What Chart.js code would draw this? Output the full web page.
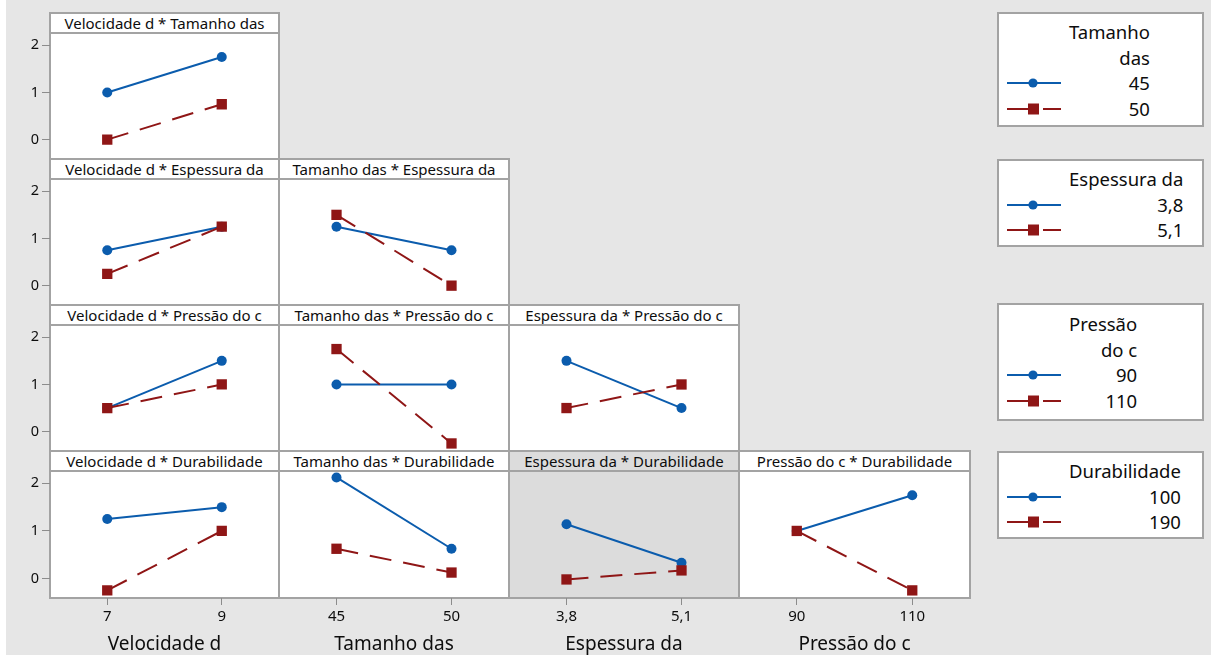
<!DOCTYPE html>
<html>
<head>
<meta charset="utf-8">
<script src="https://cdn.jsdelivr.net/npm/chart.js@4.4.1/dist/chart.umd.min.js"></script>
<style>
  html, body { margin: 0; padding: 0; }
  body { width: 1211px; height: 659px; background: #ffffff; position: relative; overflow: hidden;
         font-family: "Noto Sans", "Open Sans", sans-serif; color: #0d0d0d; }
  #backdrop { position: absolute; left: 6px; top: 0; width: 1205px; height: 655px; background: #e6e6e6; }
  .strip, .plot { position: absolute; box-sizing: border-box; border: 2px solid #a3a3a3; background: #ffffff; }
  .strip { display: flex; align-items: center; justify-content: center; overflow: hidden; white-space: nowrap; }
  .strip span { display: inline-block; font-size: 15px; line-height: 1; transform-origin: center center; }
  .shaded { background: #dcdcdc; }
  canvas { position: absolute; }
  .legend { position: absolute; box-sizing: border-box; border: 2px solid #a3a3a3; background: #ffffff;
            left: 997px; width: 207px; }
  .legend .txt { position: absolute; left: 70px; text-align: right; font-size: 18.5px; }
  .legend .txt div { height: 25.5px; line-height: 25.5px; white-space: nowrap; }
  .legend svg { position: absolute; left: 8px; }
</style>
</head>
<body>
<div id="backdrop"></div>
<div id="stage"></div>
<script>
// Factors of the interaction plot and their two levels
const factorNames = ['Velocidade d', 'Tamanho das', 'Espessura da', 'Pressão do c', 'Durabilidade'];
const velocidadeLevels = ['7', '9'];
const tamanhoLevels = ['45', '50'];
const espessuraLevels = ['3,8', '5,1'];
const pressaoLevels = ['90', '110'];
const durabilidadeLevels = ['100', '190'];
const yTickValues = [0, 1, 2];

// Fitted means: one array per level of the trace factor, across the two x-factor levels
const tam45ByVelocidade = [1.0, 1.75];
const tam50ByVelocidade = [0.0, 0.75];

const esp38ByVelocidade = [0.75, 1.25];
const esp51ByVelocidade = [0.25, 1.25];
const esp38ByTamanho = [1.25, 0.75];
const esp51ByTamanho = [1.5, 0.0];

const pre90ByVelocidade = [0.5, 1.5];
const pre110ByVelocidade = [0.5, 1.0];
const pre90ByTamanho = [1.0, 1.0];
const pre110ByTamanho = [1.75, -0.25];
const pre90ByEspessura = [1.5, 0.5];
const pre110ByEspessura = [0.5, 1.0];

const dur100ByVelocidade = [1.25, 1.5];
const dur190ByVelocidade = [-0.25, 1.0];
const dur100ByTamanho = [2.125, 0.625];
const dur190ByTamanho = [0.625, 0.125];
const dur100ByEspessura = [1.14, 0.33];
const dur190ByEspessura = [-0.02, 0.17];
const dur100ByPressao = [1.0, 1.75];
const dur190ByPressao = [1.0, -0.25];

// Legend titles as they wrap in the legend boxes
const legendTitleLines = [['Tamanho', 'das'], ['Espessura da'], ['Pressão', 'do c'], ['Durabilidade']];

const levelSets = [velocidadeLevels, tamanhoLevels, espessuraLevels, pressaoLevels, durabilidadeLevels];

// row = trace factor (index row + 1), col = x factor
const panels = [
  { row: 0, col: 0, first: tam45ByVelocidade, second: tam50ByVelocidade },
  { row: 1, col: 0, first: esp38ByVelocidade, second: esp51ByVelocidade },
  { row: 1, col: 1, first: esp38ByTamanho, second: esp51ByTamanho },
  { row: 2, col: 0, first: pre90ByVelocidade, second: pre110ByVelocidade },
  { row: 2, col: 1, first: pre90ByTamanho, second: pre110ByTamanho },
  { row: 2, col: 2, first: pre90ByEspessura, second: pre110ByEspessura },
  { row: 3, col: 0, first: dur100ByVelocidade, second: dur190ByVelocidade },
  { row: 3, col: 1, first: dur100ByTamanho, second: dur190ByTamanho },
  { row: 3, col: 2, first: dur100ByEspessura, second: dur190ByEspessura, shaded: true },
  { row: 3, col: 3, first: dur100ByPressao, second: dur190ByPressao }
];

// Grid geometry
const colEdges = [50, 279, 509, 739, 970];
const rowTops = [12, 158, 304, 450, 597];
const STRIP_H = 20;
const Y_AXIS_W = 36;
const X_AXIS_H = 58;
const BLUE = '#0b5cad';
const RED = '#8f1616';
const TICK_COLOR = '#8c8c8c';
const TEXT_COLOR = '#0d0d0d';

const stage = document.getElementById('stage');

function box(cls, left, top, width, height) {
  const d = document.createElement('div');
  d.className = cls;
  d.style.left = left + 'px';
  d.style.top = top + 'px';
  d.style.width = width + 'px';
  d.style.height = height + 'px';
  stage.appendChild(d);
  return d;
}

panels.forEach(p => {
  const x0 = colEdges[p.col], x1 = colEdges[p.col + 1];
  const t0 = rowTops[p.row], t1 = rowTops[p.row + 1];
  const isFirstCol = p.col === 0;
  const isBottom = p.row === 3;

  // Title strip
  const strip = box('strip' + (p.shaded ? ' shaded' : ''), x0 - 1, t0, x1 - x0 + 2, STRIP_H + 2);
  const span = document.createElement('span');
  span.textContent = factorNames[p.col] + ' * ' + factorNames[p.row + 1];
  strip.appendChild(span);
  const avail = x1 - x0 - 22;
  const w = span.offsetWidth;
  if (w > avail) span.style.transform = 'scaleX(' + (avail / w).toFixed(3) + ')';

  // Plot frame
  box('plot' + (p.shaded ? ' shaded' : ''), x0 - 1, t0 + STRIP_H, x1 - x0 + 2, t1 - t0 - STRIP_H + 2);

  // Chart canvas: chart area spans the frame interior
  const areaTop = t0 + STRIP_H + 1;
  const areaH = t1 + 1 - areaTop;
  const cv = document.createElement('canvas');
  const cLeft = isFirstCol ? x0 - Y_AXIS_W : x0;
  const cW = (x1 - x0) + (isFirstCol ? Y_AXIS_W : 0);
  const cH = areaH + (isBottom ? X_AXIS_H : 0);
  cv.width = cW; cv.height = cH;
  cv.style.left = cLeft + 'px'; cv.style.top = areaTop + 'px';
  cv.style.width = cW + 'px'; cv.style.height = cH + 'px';
  stage.appendChild(cv);

  new Chart(cv.getContext('2d'), {
    type: 'line',
    data: {
      labels: levelSets[p.col],
      datasets: [
        { data: p.first, borderColor: BLUE, backgroundColor: BLUE, borderWidth: 2,
          pointStyle: 'circle', pointRadius: 5, pointBorderWidth: 0, order: 1, tension: 0 },
        { data: p.second, borderColor: RED, backgroundColor: RED, borderWidth: 2, borderDash: [22, 12],
          pointStyle: 'rect', pointRadius: 7.3, pointBorderWidth: 0, order: 0, tension: 0 }
      ]
    },
    options: {
      responsive: false, animation: false, devicePixelRatio: 1, events: [],
      layout: { padding: 0, autoPadding: false },
      plugins: { legend: { display: false }, tooltip: { enabled: false } },
      scales: {
        x: {
          type: 'category', offset: true, display: isBottom,
          grid: { display: true, drawOnChartArea: false, drawTicks: true, tickLength: 7, color: TICK_COLOR, lineWidth: 1 },
          border: { display: false },
          ticks: { color: TEXT_COLOR, font: { family: 'Noto Sans', size: 15 }, padding: 3, maxRotation: 0 },
          title: { display: true, text: factorNames[p.col], color: TEXT_COLOR,
                   font: { family: 'Noto Sans', size: 19 }, padding: 0 },
          afterFit: s => {
            s.height = isBottom ? X_AXIS_H : 0;
            s.paddingLeft = 0; s.paddingRight = 0; s.paddingTop = 0; s.paddingBottom = 0;
          }
        },
        y: {
          min: -0.41, max: 2.26, display: isFirstCol,
          afterBuildTicks: s => { s.ticks = yTickValues.map(v => ({ value: v })); },
          grid: { display: true, drawOnChartArea: false, drawTicks: true, tickLength: 8, color: TICK_COLOR, lineWidth: 1 },
          border: { display: false },
          ticks: { color: TEXT_COLOR, font: { family: 'Noto Sans', size: 14.5 }, padding: 3 },
          afterFit: s => {
            s.width = isFirstCol ? Y_AXIS_W : 0;
            s.paddingLeft = 0; s.paddingRight = 0; s.paddingTop = 0; s.paddingBottom = 0;
          }
        }
      }
    }
  });
});

// Legends, one per trace factor
const legendTops = [12, 159, 303, 451];
const legendHeights = [115, 88, 118, 88];
const legendFirstCenter = [20, 20, 21, 20];
const LINE_H = 25.5;

legendTitleLines.forEach((titleLines, i) => {
  const lg = box('legend', 997, legendTops[i], 207, legendHeights[i]);
  const txt = document.createElement('div');
  txt.className = 'txt';
  txt.style.top = (legendFirstCenter[i] - 2 - LINE_H / 2) + 'px';
  const lines = titleLines.concat(levelSets[i + 1]);
  lines.forEach(s => {
    const d = document.createElement('div');
    d.textContent = s;
    txt.appendChild(d);
  });
  lg.appendChild(txt);

  // line + marker samples beside the two level values
  const n = titleLines.length;
  [0, 1].forEach(k => {
    const cy = legendFirstCenter[i] - 2 + (n + k) * LINE_H;
    const svgNS = 'http://www.w3.org/2000/svg';
    const svg = document.createElementNS(svgNS, 'svg');
    svg.setAttribute('width', '60');
    svg.setAttribute('height', '14');
    svg.style.top = (cy - 7) + 'px';
    const mk = (tag, attrs) => {
      const e = document.createElementNS(svgNS, tag);
      Object.entries(attrs).forEach(([a, v]) => e.setAttribute(a, v));
      svg.appendChild(e);
    };
    if (k === 0) {
      mk('line', { x1: 0, y1: 7, x2: 54, y2: 7, stroke: BLUE, 'stroke-width': 2 });
      mk('circle', { cx: 26, cy: 7, r: 4.6, fill: BLUE });
    } else {
      mk('line', { x1: 0, y1: 7, x2: 21, y2: 7, stroke: RED, 'stroke-width': 2 });
      mk('rect', { x: 21, y: 1.5, width: 11, height: 11, fill: RED });
      mk('line', { x1: 36, y1: 7, x2: 54, y2: 7, stroke: RED, 'stroke-width': 2 });
    }
    lg.appendChild(svg);
  });
});
</script>
</body>
</html>
